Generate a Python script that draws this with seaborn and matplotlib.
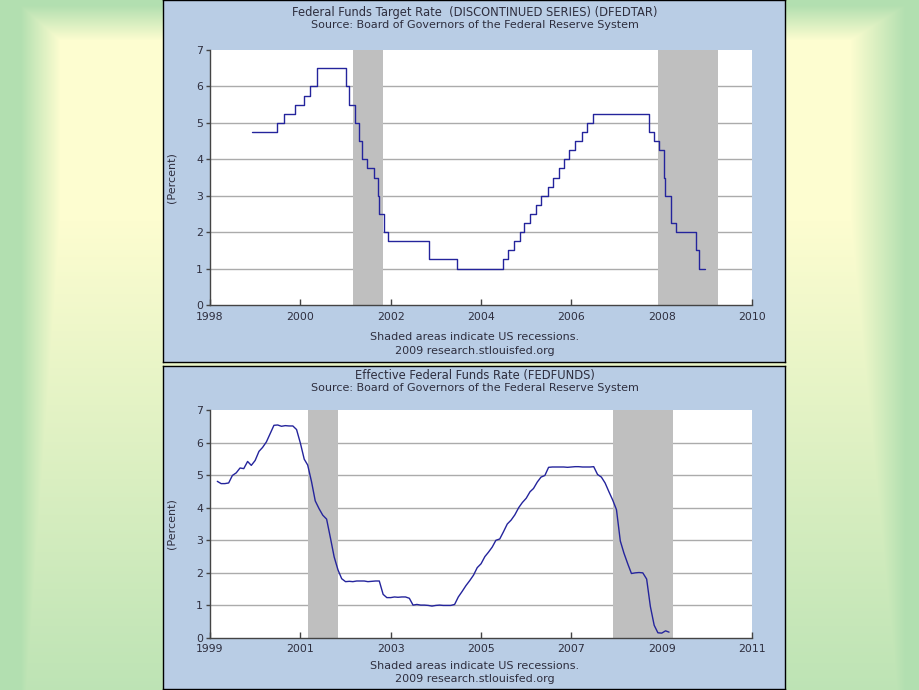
import numpy as np
import pandas as pd
import matplotlib
matplotlib.use("Agg")
import matplotlib.pyplot as plt
import matplotlib.dates as mdates
import seaborn as sns

# ---------------- data ----------------
target_dates = ["1998-12-04", "1999-06-30", "1999-08-24", "1999-11-16", "2000-02-02", "2000-03-21", "2000-05-16",
                "2001-01-03", "2001-01-31", "2001-03-20", "2001-04-18", "2001-05-15", "2001-06-27", "2001-08-21",
                "2001-09-17", "2001-10-02", "2001-11-06", "2001-12-11",
                "2002-11-06", "2003-06-25", "2004-06-30", "2004-08-10", "2004-09-21", "2004-11-10", "2004-12-14",
                "2005-02-02", "2005-03-22", "2005-05-03", "2005-06-30", "2005-08-09", "2005-09-20", "2005-11-01",
                "2005-12-13",
                "2006-01-31", "2006-03-28", "2006-05-10", "2006-06-29", "2007-09-18", "2007-10-31", "2007-12-11",
                "2008-01-22", "2008-01-30", "2008-03-18", "2008-04-30", "2008-10-08", "2008-10-29", "2008-12-15"]
target_values = [4.75, 5.00, 5.25, 5.50, 5.75, 6.00, 6.50,
                 6.00, 5.50, 5.00, 4.50, 4.00, 3.75, 3.50, 3.00, 2.50, 2.00, 1.75,
                 1.25, 1.00, 1.25, 1.50, 1.75, 2.00, 2.25,
                 2.50, 2.75, 3.00, 3.25, 3.50, 3.75, 4.00, 4.25,
                 4.50, 4.75, 5.00, 5.25, 4.75, 4.50, 4.25,
                 3.50, 3.00, 2.25, 2.00, 1.50, 1.00, 1.00]

eff_start = "1999-03-01"
eff_values = [4.81, 4.74, 4.74, 4.76, 4.99, 5.07, 5.22, 5.20, 5.42, 5.30,
              5.45, 5.73, 5.85, 6.02, 6.27, 6.53, 6.54, 6.50, 6.52, 6.51, 6.51, 6.40,
              5.98, 5.49, 5.31, 4.80, 4.21, 3.97, 3.77, 3.65, 3.07, 2.49, 2.09, 1.82,
              1.73, 1.74, 1.73, 1.75, 1.75, 1.75, 1.73, 1.74, 1.75, 1.75, 1.34, 1.24,
              1.24, 1.26, 1.25, 1.26, 1.26, 1.22, 1.01, 1.03, 1.01, 1.01, 1.00, 0.98,
              1.00, 1.01, 1.00, 1.00, 1.00, 1.03, 1.26, 1.43, 1.61, 1.76, 1.93, 2.16,
              2.28, 2.50, 2.63, 2.79, 3.00, 3.04, 3.26, 3.50, 3.62, 3.78, 4.00, 4.16,
              4.29, 4.49, 4.59, 4.79, 4.94, 4.99, 5.24, 5.25, 5.25, 5.25, 5.25, 5.24,
              5.25, 5.26, 5.26, 5.25, 5.25, 5.25, 5.26, 5.02, 4.94, 4.76, 4.49, 4.24,
              3.94, 2.98, 2.61, 2.28, 1.98, 2.00, 2.01, 2.00, 1.81, 0.97, 0.39, 0.16,
              0.15, 0.22, 0.18]

recessions = [("2001-03-01", "2001-11-01"), ("2007-12-01", "2009-04-01")]

top_title = "Federal Funds Target Rate  (DISCONTINUED SERIES) (DFEDTAR)"
bot_title = "Effective Federal Funds Rate (FEDFUNDS)"
source_txt = "Source: Board of Governors of the Federal Reserve System"
foot1 = "Shaded areas indicate US recessions."
foot2 = "2009 research.stlouisfed.org"
ylabel_txt = "(Percent)"
top_years = [1998, 2000, 2002, 2004, 2006, 2008, 2010]
bot_years = [1999, 2001, 2003, 2005, 2007, 2009, 2011]
y_ticks = [0, 1, 2, 3, 4, 5, 6, 7]

# ---------------- style ----------------
sns.set_style("white")
plt.rcParams['font.family'] = ['DejaVu Sans']

W, H = 920, 690
fig = plt.figure(figsize=(W / 100, H / 100), dpi=100)

# slide background gradient (decoration)
bg = fig.add_axes([0, 0, 1, 1], zorder=0)
xx, yy = np.meshgrid(np.arange(W), np.arange(H))
tx_l = np.clip((60 - xx) / 40.0, 0, 1)
tx_r = np.clip((xx - 850) / 55.0, 0, 1)
ty_t = np.clip((40 - yy) / 35.0, 0, 1)
ty_b = np.clip((yy - 220) / 470.0, 0, 1) * 0.85
t = np.maximum.reduce([tx_l, tx_r, ty_t, ty_b])
green = np.array([178, 223, 176]) / 255.0
yellow = np.array([253, 253, 208]) / 255.0
img = yellow[None, None, :] * (1 - t[..., None]) + green[None, None, :] * t[..., None]
bg.imshow(img, aspect='auto', extent=[0, 1, 0, 1])
bg.axis('off')

panel_color = "#b9cde5"
text_color = "#2e2e3e"
line_color = "#24249c"


def px_rect(x0, y0, x1, y1):
    return [x0 / W, 1 - y1 / H, (x1 - x0) / W, (y1 - y0) / H]


# panel boxes
for (x0, y0, x1, y1) in [(163, 0, 785, 362), (163, 366, 785, 689)]:
    pa = fig.add_axes(px_rect(x0, y0, x1, y1), zorder=1)
    pa.set_facecolor(panel_color)
    pa.set_xticks([])
    pa.set_yticks([])
    for s in pa.spines.values():
        s.set_color("black")
        s.set_linewidth(1.0)
        s.set_visible(True)


def style_axes(ax, years, xmin, xmax, label_pad):
    ax.set_facecolor("white")
    ax.set_ylim(0, 7)
    ax.set_xlim(pd.Timestamp(xmin), pd.Timestamp(xmax))
    ax.set_yticks(y_ticks)
    ax.set_xticks([pd.Timestamp(f"{y}-01-01") for y in years])
    ax.set_xticklabels([str(y) for y in years])
    for yv in y_ticks[1:-1]:
        ax.axhline(yv, color="#ababab", lw=1.0, zorder=1)
    for s in ["top", "right"]:
        ax.spines[s].set_visible(False)
    for s in ["left", "bottom"]:
        ax.spines[s].set_visible(True)
        ax.spines[s].set_color("#444444")
        ax.spines[s].set_linewidth(1.0)
    ax.tick_params(axis='x', direction='in', length=4, width=1, color="#444444",
                   labelsize=7.8, labelcolor=text_color, pad=label_pad, bottom=True)
    ax.tick_params(axis='y', direction='out', length=3, width=1, color="#444444",
                   labelsize=7.8, labelcolor=text_color, pad=2, left=True)
    ax.set_xlabel("")
    ax.set_ylabel("")
    ax.grid(False)


def shade(ax):
    for a, b in recessions:
        ax.axvspan(pd.Timestamp(a), pd.Timestamp(b), color="#bfbfbf", lw=0, zorder=2)


# ---------- top chart ----------
ax1 = fig.add_axes(px_rect(210, 50, 752, 305), zorder=2)
df_t = pd.DataFrame({"date": pd.to_datetime(target_dates), "rate": target_values})
shade(ax1)
sns.lineplot(data=df_t, x="date", y="rate", ax=ax1, color=line_color, lw=1.0,
             drawstyle="steps-post", zorder=3)
style_axes(ax1, top_years, "1998-01-01", "2010-01-01", 5.0)

# ---------- bottom chart ----------
ax2 = fig.add_axes(px_rect(210, 410, 752, 638), zorder=2)
df_e = pd.DataFrame({"date": pd.date_range(eff_start, periods=len(eff_values), freq="MS"),
                     "rate": eff_values})
shade(ax2)
sns.lineplot(data=df_e, x="date", y="rate", ax=ax2, color=line_color, lw=1.0, zorder=3)
style_axes(ax2, bot_years, "1999-01-01", "2011-01-01", 4.5)

# ---------- texts ----------
cx = 475 / W
def ftext(y, s, fs=8.0):
    fig.text(cx, 1 - y / H, s, ha="center", va="center", fontsize=fs, color=text_color, zorder=5)

ftext(12.5, top_title, 8.3)
ftext(24.5, source_txt)
ftext(337, foot1)
ftext(351, foot2)
ftext(375.5, bot_title, 8.3)
ftext(387.5, source_txt)
ftext(666, foot1)
ftext(679, foot2)
fig.text(172 / W, 1 - 178 / H, ylabel_txt, rotation=90, ha="center", va="center",
         fontsize=8.0, color=text_color, zorder=5)
fig.text(172 / W, 1 - 524 / H, ylabel_txt, rotation=90, ha="center", va="center",
         fontsize=8.0, color=text_color, zorder=5)

fig.savefig("out.png", dpi=100)
